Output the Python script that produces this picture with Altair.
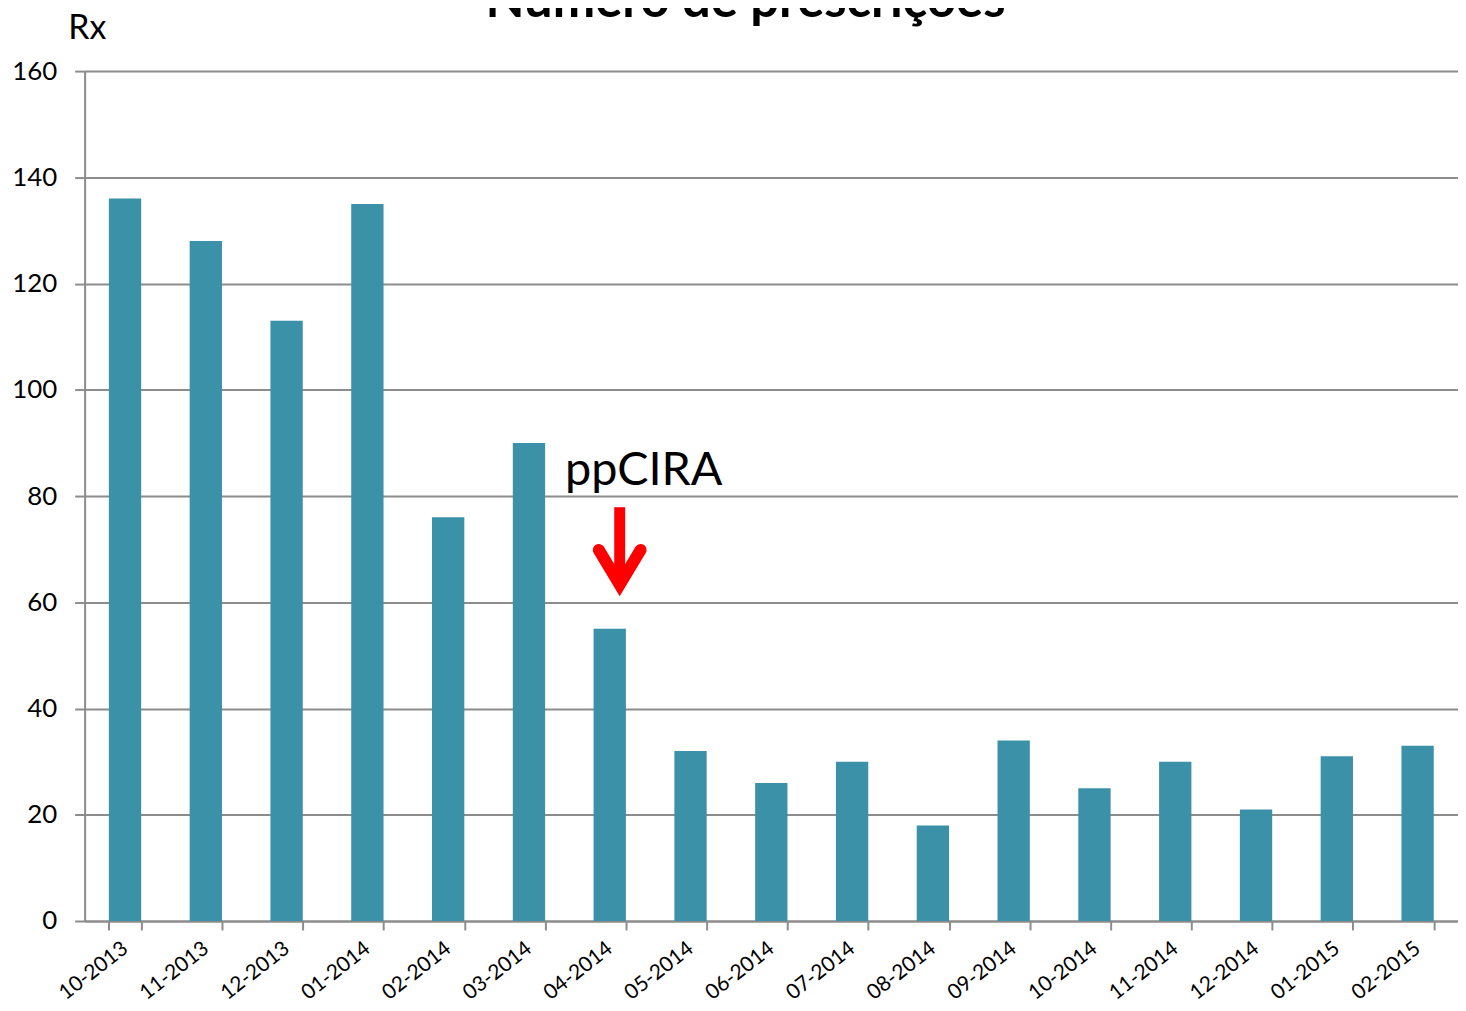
import altair as alt
import pandas as pd

months = ["10-2013", "11-2013", "12-2013", "01-2014", "02-2014", "03-2014",
          "04-2014", "05-2014", "06-2014", "07-2014", "08-2014", "09-2014",
          "10-2014", "11-2014", "12-2014", "01-2015", "02-2015"]
prescriptions = [136, 128, 113, 135, 76, 90, 55, 32, 26, 30, 18, 34, 25, 30, 21, 31, 33]

y_ticks = [0, 20, 40, 60, 80, 100, 120, 140, 160]

title_text = ["Número de prescrições"]
ann_month = ["04-2014"]
ann_label = ["ppCIRA"]
ann_label_y = [82]
arrow_top = [77.9]
arrow_bottom = [63.6]
arrow_tip = [63.3]

FONT = "Lato"
GRAY = "#8c8c8c"

bars_df = pd.DataFrame({"month": months, "value": prescriptions})
ann_df = pd.DataFrame({"month": ann_month, "label": ann_label, "ly": ann_label_y,
                       "top": arrow_top, "bottom": arrow_bottom, "tip": arrow_tip})
title_df = pd.DataFrame({"t": title_text})

W, H = 1380, 854

x_enc = alt.X("month:N", sort=months, title=None,
              scale=alt.Scale(paddingInner=0.6, paddingOuter=0.3),
              axis=alt.Axis(tickBand="extent", labelAngle=-38,
                            labelAlign="right", labelBaseline="middle", labelOverlap=False,
                            labelFontSize=21, labelFont=FONT, labelColor="black",
                            labelPadding=16, tickSize=9, tickColor=GRAY, tickWidth=2,
                            domainColor=GRAY, domainWidth=2, grid=False))
y_enc = alt.Y("value:Q", scale=alt.Scale(domain=[0, 160], nice=False),
              axis=alt.Axis(values=y_ticks, title="Rx", titleAngle=0, titleAlign="left",
                            titleBaseline="alphabetic", titleX=-17, titleY=-33,
                            titleFontSize=34, titleFont=FONT, titleFontWeight="normal",
                            titleColor="black",
                            labelFontSize=26, labelFont=FONT, labelColor="black",
                            labelPadding=18, tickSize=10, tickColor=GRAY, tickWidth=2,
                            domainColor=GRAY, domainWidth=2,
                            grid=True, gridColor=GRAY, gridWidth=2))

bars = alt.Chart(bars_df).mark_bar(color="#3B91A8").encode(x=x_enc, y=y_enc)

shaft = alt.Chart(ann_df).mark_rule(color="red", strokeWidth=11, xOffset=10).encode(
    x=alt.X("month:N", sort=months), y="top:Q", y2="bottom:Q")

head = alt.Chart(ann_df).mark_point(
    shape="M-1.2,-2L0,0L1.2,-2", size=1225, filled=False, stroke="red",
    strokeWidth=12, strokeCap="round", strokeJoin="miter", strokeMiterLimit=10,
    opacity=1, xOffset=10
).encode(x=alt.X("month:N", sort=months), y="tip:Q")

label = alt.Chart(ann_df).mark_text(
    align="left", baseline="alphabetic", fontSize=47, font=FONT, color="black", dx=-45
).encode(x=alt.X("month:N", sort=months), y="ly:Q", text="label:N")

title = alt.Chart(title_df).mark_text(
    align="center", baseline="alphabetic", fontSize=51, font=FONT, fontWeight="bold",
    color="black"
).encode(x=alt.value(664), y=alt.value(-54), text="t:N")

chart = alt.layer(bars, shaft, head, label, title).properties(
    width=W, height=H,
    autosize=alt.AutoSizeParams(type="none"),
    padding={"left": 77, "top": 61, "right": 0, "bottom": 79},
).configure_view(stroke=None).configure(font=FONT)

chart.save("out.html", embed_options={"renderer": "svg", "actions": False})
